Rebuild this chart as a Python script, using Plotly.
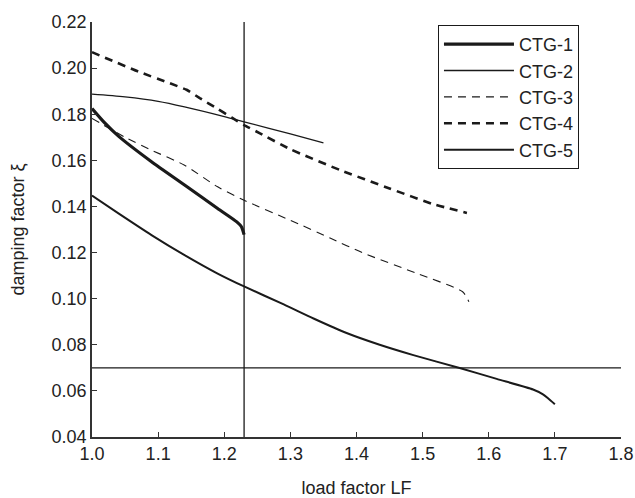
import plotly.graph_objects as go

# ---- data ----
ctg1_x = [1.0, 1.02, 1.04, 1.09, 1.14, 1.19, 1.219, 1.226, 1.23]
ctg1_y = [0.1825, 0.1760, 0.1705, 0.1594, 0.1493, 0.1391, 0.1333, 0.1312, 0.1278]

ctg2_x = [1.0, 1.05, 1.1, 1.14, 1.2, 1.23, 1.3, 1.35]
ctg2_y = [0.1887, 0.1875, 0.1856, 0.1832, 0.1790, 0.1767, 0.1715, 0.1676]

ctg3_x = [1.0, 1.05, 1.09, 1.14, 1.19, 1.23, 1.3, 1.36, 1.41, 1.49, 1.5605, 1.57]
ctg3_y = [0.1782, 0.1700, 0.1644, 0.1579, 0.1485, 0.1427, 0.1340, 0.1263, 0.1198, 0.1111, 0.1030, 0.0987]

ctg4_x = [1.0, 1.07, 1.118, 1.143, 1.163, 1.189, 1.211, 1.23, 1.254, 1.30, 1.375, 1.45, 1.516, 1.567]
ctg4_y = [0.2069, 0.1985, 0.1934, 0.1906, 0.1870, 0.1825, 0.1786, 0.1753, 0.1717, 0.1648, 0.1558, 0.1478, 0.1410, 0.1372]

ctg5_x = [1.0, 1.04, 1.09, 1.14, 1.19, 1.23, 1.29, 1.335, 1.385, 1.435, 1.486, 1.556, 1.612, 1.667, 1.682, 1.69, 1.70]
ctg5_y = [0.1447, 0.1370, 0.1276, 0.1189, 0.1109, 0.1053, 0.0975, 0.0914, 0.0851, 0.0800, 0.0755, 0.0699, 0.0652, 0.0606, 0.0585, 0.0567, 0.0542]

lf_limit = 1.23        # vertical reference line
xi_limit = 0.07        # horizontal reference line

x_ticks = [1.0, 1.1, 1.2, 1.3, 1.4, 1.5, 1.6, 1.7, 1.8]
y_ticks = [0.04, 0.06, 0.08, 0.10, 0.12, 0.14, 0.16, 0.18, 0.20, 0.22]

INK = "#1a1a1a"
FONT = "Liberation Sans, Arial, sans-serif"

fig = go.Figure()
fig.add_trace(go.Scatter(x=ctg1_x, y=ctg1_y, mode="lines", name="CTG-1",
                         line=dict(color=INK, width=3.2, shape="spline", smoothing=0.6)))
fig.add_trace(go.Scatter(x=ctg2_x, y=ctg2_y, mode="lines", name="CTG-2",
                         line=dict(color=INK, width=1.3, shape="spline", smoothing=0.8)))
fig.add_trace(go.Scatter(x=ctg3_x, y=ctg3_y, mode="lines", name="CTG-3",
                         line=dict(color=INK, width=1.1, dash="8px,6px", shape="spline", smoothing=0.6)))
fig.add_trace(go.Scatter(x=ctg4_x, y=ctg4_y, mode="lines", name="CTG-4",
                         line=dict(color=INK, width=2.6, dash="8px,6px", shape="spline", smoothing=0.4)))
fig.add_trace(go.Scatter(x=ctg5_x, y=ctg5_y, mode="lines", name="CTG-5",
                         line=dict(color=INK, width=2.0, shape="spline", smoothing=0.6)))

fig.add_shape(type="line", xref="x", yref="y", x0=lf_limit, x1=lf_limit,
              y0=y_ticks[0], y1=y_ticks[-1], line=dict(color=INK, width=1.3))
fig.add_shape(type="line", xref="x", yref="y", x0=x_ticks[0], x1=x_ticks[-1],
              y0=xi_limit, y1=xi_limit, line=dict(color=INK, width=1.3))

fig.update_layout(
    width=635, height=498,
    margin=dict(l=92, r=14, t=22, b=61),
    paper_bgcolor="white", plot_bgcolor="white",
    font=dict(family=FONT, size=18, color="#222"),
    showlegend=True,
    legend=dict(x=0.654, y=0.993, xanchor="left", yanchor="top",
                bordercolor=INK, borderwidth=1, bgcolor="white",
                font=dict(size=18), tracegroupgap=0, itemwidth=70),
    xaxis=dict(range=[x_ticks[0], x_ticks[-1]], tickvals=x_ticks, tickformat=".1f",
               ticks="inside", ticklen=5, tickwidth=1.3, tickcolor="#333",
               showline=True, linecolor="#333", linewidth=1.5,
               showgrid=False, zeroline=False, automargin=False,
               title=dict(text="load factor LF", standoff=18, font=dict(size=18))),
    yaxis=dict(range=[y_ticks[0], y_ticks[-1]], tickvals=y_ticks, tickformat=".2f",
               ticks="inside", ticklen=5, tickwidth=1.3, tickcolor="#333",
               showline=True, linecolor="#333", linewidth=1.5,
               showgrid=False, zeroline=False, automargin=False,
               title=dict(text="damping factor ξ", standoff=22, font=dict(size=18))),
)

fig.write_html("out.html", config={"displayModeBar": False},
               post_script="document.body.style.margin='0';")
